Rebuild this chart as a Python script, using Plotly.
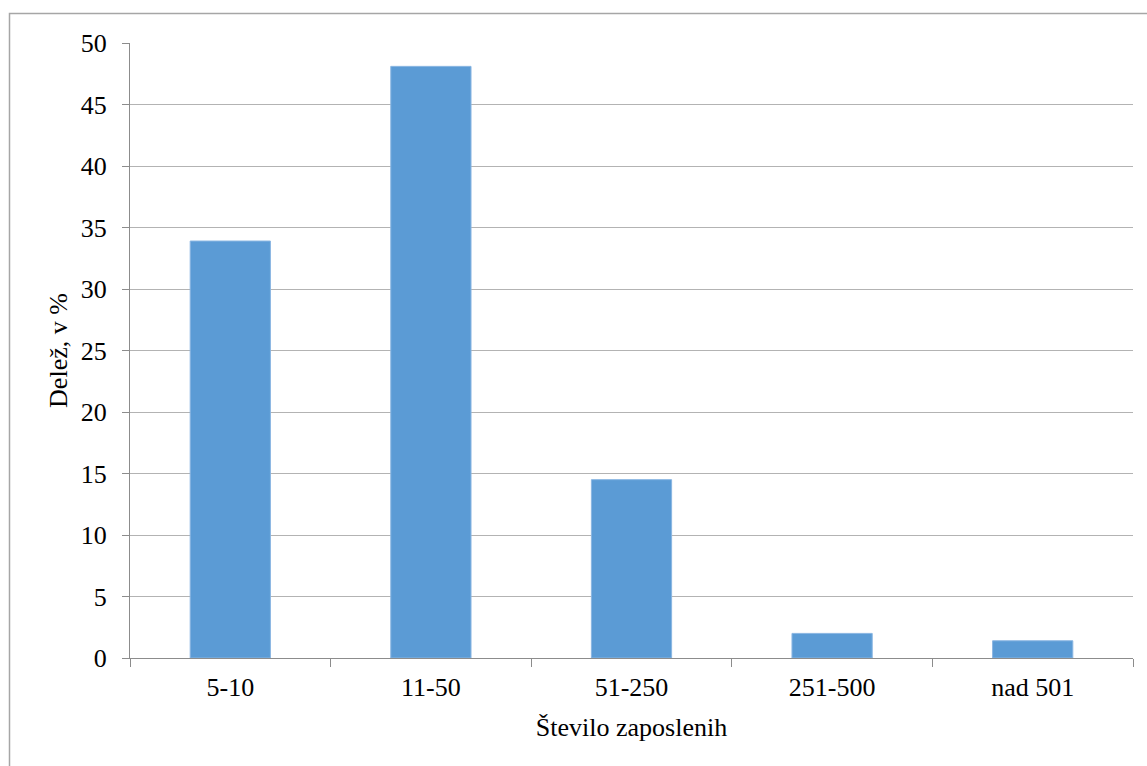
import plotly.graph_objects as go

# Share of companies by number of employees
categories = ["5-10", "11-50", "51-250", "251-500", "nad 501"]
shares = [33.9, 48.1, 14.5, 2.0, 1.4]
y_ticks = [0, 5, 10, 15, 20, 25, 30, 35, 40, 45, 50]

W, H = 1147, 766
L, R, T, B = 130, 1133, 43, 658

font = dict(family="Liberation Serif", size=26, color="#000000")
grid_col = "#b3b3b3"

fig = go.Figure(
    go.Bar(
        x=categories,
        y=shares,
        width=0.4,
        marker=dict(color="#5b9bd5", line=dict(color="#8ab6e2", width=1)),
        hoverinfo="x+y",
    )
)

pw, ph = R - L, B - T


def px_x(p):
    return (p - L) / pw


def px_y(p):
    return (B - p) / ph


fig.update_layout(
    width=W,
    height=H,
    margin=dict(l=L, r=W - R, t=T, b=H - B),
    paper_bgcolor="white",
    plot_bgcolor="white",
    font=font,
    showlegend=False,
    bargap=0.6,
    xaxis=dict(
        type="category",
        showgrid=False,
        showline=True,
        linecolor="#8c8c8c",
        linewidth=1,
        ticks="outside",
        tickson="boundaries",
        ticklen=8,
        tickcolor="#8c8c8c",
        tickfont=font,
        ticklabelstandoff=6,
        title=dict(text="Število zaposlenih", font=font, standoff=16),
    ),
    yaxis=dict(
        range=[0, 50],
        tickvals=y_ticks,
        showgrid=True,
        gridcolor=grid_col,
        gridwidth=1,
        zeroline=False,
        showline=True,
        linecolor="#8c8c8c",
        linewidth=1,
        ticks="outside",
        ticklen=7,
        tickcolor="#8c8c8c",
        tickfont=font,
        ticklabelstandoff=10,
        title=dict(text="Delež, v %", font=font, standoff=5),
    ),
    shapes=[
        dict(
            type="rect",
            xref="paper",
            yref="paper",
            x0=px_x(9.5),
            x1=px_x(W + 20),
            y0=px_y(H + 20),
            y1=px_y(13.5),
            line=dict(color="#a6a6a6", width=1.5),
            fillcolor="rgba(0,0,0,0)",
            layer="below",
        )
    ],
)

fig.write_html("out.html")
